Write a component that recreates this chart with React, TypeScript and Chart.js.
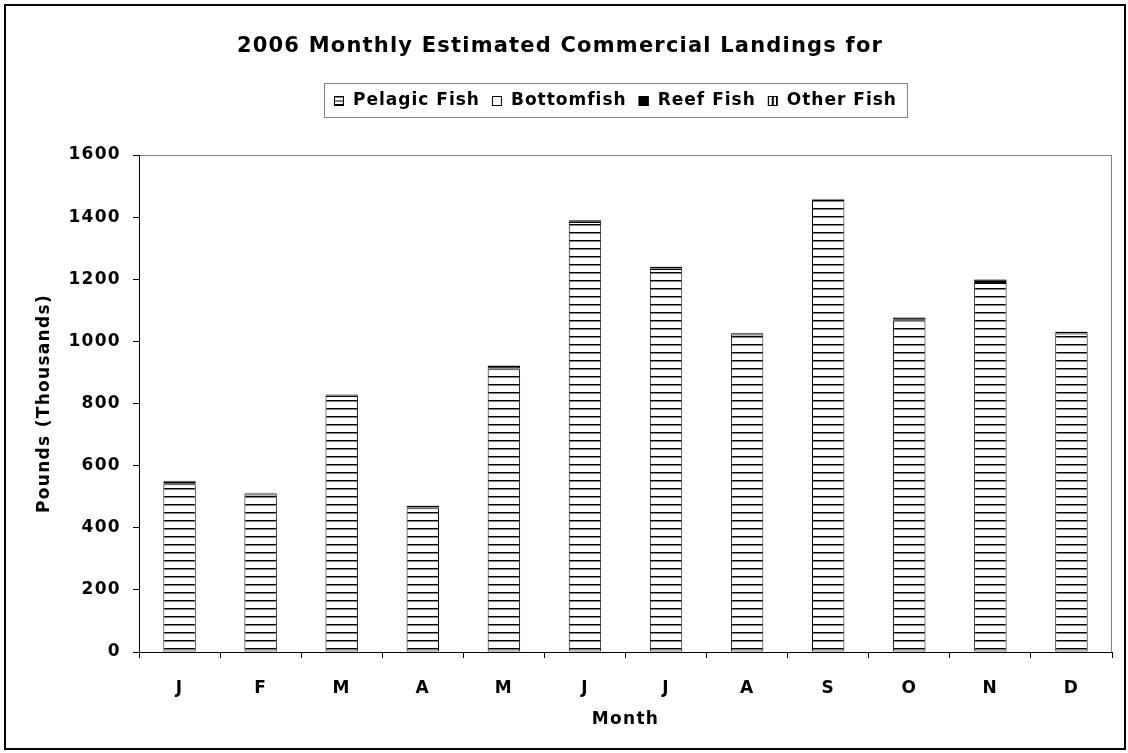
import React, { useEffect, useRef } from 'react';
import { Chart, registerables } from 'chart.js';

Chart.register(...registerables);

const months = ['J', 'F', 'M', 'A', 'M', 'J', 'J', 'A', 'S', 'O', 'N', 'D'];
const pelagicFish = [540, 507, 824, 463, 910, 1384, 1233, 1022, 1455, 1068, 1188, 1025];
const bottomfish = [3, 3, 2, 2, 3, 3, 2, 2, 2, 2, 3, 2];
const reefFish = [7, 2, 3, 6, 8, 3, 5, 2, 1, 7, 8, 4];
const otherFish = [1, 1, 1, 1, 1, 1, 1, 1, 1, 1, 1, 1];
const seriesNames = ['Pelagic Fish', 'Bottomfish', 'Reef Fish', 'Other Fish'];
const yMin = 0;
const yMax = 1600;
const yStep = 200;
const titleText = '2006 Monthly Estimated Commercial Landings for';
const xTitle = 'Month';
const yTitle = 'Pounds (Thousands)';

const FONT = '"DejaVu Sans", Verdana, sans-serif';
const SPACING = '1.3px';

function makeHPattern(): CanvasPattern {
  const c = document.createElement('canvas');
  c.width = 8;
  c.height = 8;
  const g = c.getContext('2d')!;
  g.fillStyle = '#fff';
  g.fillRect(0, 0, 8, 8);
  g.fillStyle = '#000';
  g.fillRect(0, 0, 8, 1);
  g.fillStyle = '#888';
  g.fillRect(0, 1, 8, 1);
  return g.createPattern(c, 'repeat')!;
}

function makeVPattern(): CanvasPattern {
  const c = document.createElement('canvas');
  c.width = 4;
  c.height = 4;
  const g = c.getContext('2d')!;
  g.fillStyle = '#fff';
  g.fillRect(0, 0, 4, 4);
  g.fillStyle = '#000';
  g.fillRect(0, 0, 1, 4);
  return g.createPattern(c, 'repeat')!;
}

export default function App() {
  const ref = useRef<HTMLCanvasElement | null>(null);

  useEffect(() => {
    const canvas = ref.current;
    if (!canvas) return;
    const hPat = makeHPattern();
    const vPat = makeVPattern();
    const fills: (string | CanvasPattern)[] = [hPat, '#ffffff', '#000000', vPat];

    const framePlugin = {
      id: 'frame',
      beforeUpdate(chart: any) {
        (chart.ctx as any).letterSpacing = SPACING;
      },
      beforeDraw(chart: any) {
        const { ctx, chartArea } = chart;
        (ctx as any).letterSpacing = SPACING;
        const { left, top, right, bottom } = chartArea;
        ctx.save();
        ctx.fillStyle = '#fff';
        ctx.fillRect(0, 0, chart.width, chart.height);
        // outer border
        ctx.strokeStyle = '#000';
        ctx.lineWidth = 2;
        ctx.strokeRect(5, 5, chart.width - 8, chart.height - 9);
        // plot area border
        ctx.strokeStyle = '#808080';
        ctx.lineWidth = 1;
        ctx.strokeRect(left + 0.5, top + 0.5, right - left - 1, bottom - top);
        // title
        (ctx as any).letterSpacing = '1.2px';
        ctx.fillStyle = '#000';
        ctx.font = `bold 21px ${FONT}`;
        ctx.textAlign = 'center';
        ctx.textBaseline = 'middle';
        ctx.fillText(titleText, 560, 47);
        // legend
        (ctx as any).letterSpacing = '1px';
        ctx.font = `bold 17px ${FONT}`;
        const iconW = 10;
        const iconGap = 9;
        const itemGap = 12;
        const padX = 10;
        const widths = seriesNames.map((n) => ctx.measureText(n).width);
        let total = padX * 2;
        widths.forEach((w, i) => {
          total += iconW + iconGap + w + (i < widths.length - 1 ? itemGap : 0);
        });
        const cx = 615;
        const bx = Math.round(cx - total / 2);
        const by = 83;
        const bh = 34;
        ctx.strokeStyle = '#808080';
        ctx.lineWidth = 1;
        ctx.strokeRect(bx + 0.5, by + 0.5, total, bh);
        let x = bx + padX;
        const cy = by + bh / 2 + 1;
        ctx.textAlign = 'left';
        seriesNames.forEach((n, i) => {
          ctx.fillStyle = fills[i];
          ctx.fillRect(x, cy - 5, iconW, iconW);
          if (i === 0) {
            ctx.fillStyle = '#000';
            ctx.fillRect(x, cy - 0.5, iconW, 1);
          }
          if (i === 3) {
            ctx.fillStyle = '#000';
            ctx.fillRect(x + 4, cy - 5, 2, iconW);
          }
          ctx.strokeStyle = '#000';
          ctx.lineWidth = 1;
          ctx.strokeRect(x + 0.5, cy - 4.5, iconW - 1, iconW - 1);
          x += iconW + iconGap;
          ctx.fillStyle = '#000';
          ctx.fillText(n, x, cy);
          x += widths[i] + itemGap;
        });
        ctx.restore();
        (ctx as any).letterSpacing = SPACING;
      },
    };

    const seriesData = [pelagicFish, bottomfish, reefFish, otherFish];
    const tickFont = { family: FONT, size: 17, weight: 'bold' as const };
    const chart = new Chart(canvas, {
      type: 'bar',
      data: {
        labels: months,
        datasets: seriesData.map((d, i) => ({
          label: seriesNames[i],
          data: d,
          backgroundColor: fills[i] as any,
          borderColor: '#000',
          borderWidth: 1,
          borderSkipped: false,
          barPercentage: 0.4,
          categoryPercentage: 1,
        })),
      },
      options: {
        responsive: true,
        maintainAspectRatio: false,
        animation: false,
        layout: { padding: { top: 155, right: 16, left: 0, bottom: 0 } },
        plugins: {
          legend: { display: false },
          title: { display: false },
          tooltip: { enabled: false },
        },
        scales: {
          x: {
            stacked: true,
            grid: {
              offset: true,
              drawOnChartArea: false,
              drawTicks: true,
              tickLength: 6,
              color: '#000',
            },
            border: { color: '#000', width: 1 },
            ticks: {
              color: '#000',
              font: tickFont,
              padding: 20,
              maxRotation: 0,
              autoSkip: false,
            },
            title: {
              display: true,
              text: xTitle,
              color: '#000',
              font: tickFont,
              padding: { top: 0, bottom: 23 },
            },
            afterFit: (scale: any) => {
              scale.height = 101;
            },
          },
          y: {
            stacked: true,
            min: yMin,
            max: yMax,
            grid: {
              drawOnChartArea: false,
              drawTicks: true,
              tickLength: 6,
              color: '#000',
            },
            border: { color: '#000', width: 1 },
            ticks: {
              stepSize: yStep,
              color: '#000',
              font: tickFont,
              padding: 12,
              callback: (v: any) => String(v),
            },
            title: {
              display: true,
              text: yTitle,
              color: '#000',
              font: tickFont,
              padding: { top: 34, bottom: 0 },
            },
            afterFit: (scale: any) => {
              scale.width = 139;
            },
          },
        },
      },
      plugins: [framePlugin],
    });
    return () => chart.destroy();
  }, []);

  return (
    <div style={{ position: 'absolute', left: 0, top: 0, width: 1128, height: 753 }}>
      <canvas ref={ref} />
    </div>
  );
}
